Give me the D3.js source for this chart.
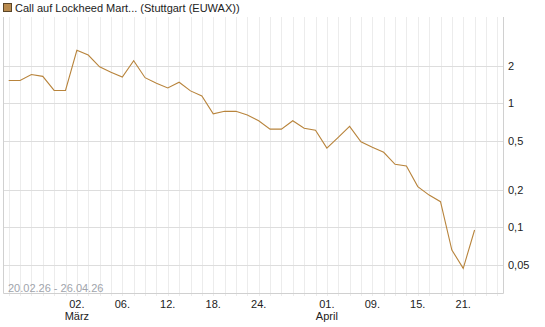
<!DOCTYPE html>
<html><head><meta charset="utf-8">
<script src="https://cdn.jsdelivr.net/npm/d3@7"></script>
<style>body{margin:0;background:#fff;}svg{display:block;font-family:"Liberation Sans",Arial,sans-serif;}</style>
</head><body>
<svg id="c" width="545" height="327"></svg>
<script>
const title = "Call auf Lockheed Mart... (Stuttgart (EUWAX))";
const rangeLabel = "20.02.26 - 26.04.26";
// trading days shown on the axis (Feb 20 – Apr 24, 2026)
const days = ["20.02","23.02","24.02","25.02","26.02","27.02",
  "02.03","03.03","04.03","05.03","06.03","09.03","10.03","11.03","12.03","13.03",
  "16.03","17.03","18.03","19.03","20.03","23.03","24.03","25.03","26.03","27.03",
  "30.03","31.03","01.04","02.04","07.04","08.04","09.04","10.04","13.04","14.04",
  "15.04","16.04","17.04","20.04","21.04","22.04","23.04","24.04"];
const values = [1.53,1.53,1.71,1.65,1.27,1.27,2.68,2.45,1.97,1.78,1.63,2.21,1.61,1.45,1.33,1.48,
  1.26,1.145,0.824,0.862,0.862,0.805,0.724,0.62,0.62,0.724,0.629,0.606,0.436,0.532,0.652,0.49,
  0.442,0.403,0.322,0.312,0.213,0.182,0.161,0.0656,0.0467,0.0951];
const tickDays = ["02.03","06.03","12.03","18.03","24.03","01.04","09.04","15.04","21.04"];
const tickLabels = ["02.","06.","12.","18.","24.","01.","09.","15.","21."];
const monthDays = ["02.03","01.04"];
const monthLabels = ["März","April"];
const yTicks = [0.05,0.1,0.2,0.5,1,2];
const yTickLabels = ["0,05","0,1","0,2","0,5","1","2"];

const svg = d3.select("#c");
const L = 3, R = 503, T = 17, B = 293;
const x = d3.scaleLinear().domain([-0.5, days.length - 0.5]).range([L, R]);
const y = d3.scaleLog().domain([0.02953, 4.97]).range([B, T]);
const xi = d => days.indexOf(d);

// vertical grid
svg.append("g").selectAll("line").data(days).join("line")
  .attr("x1", (d,i)=>Math.round(x(i))+0.5).attr("x2", (d,i)=>Math.round(x(i))+0.5)
  .attr("y1", T).attr("y2", B+3).attr("stroke", "#ececec").attr("stroke-width", 1);
// horizontal grid
svg.append("g").selectAll("line").data(yTicks).join("line")
  .attr("x1", L).attr("x2", R)
  .attr("y1", d=>Math.round(y(d))+0.5).attr("y2", d=>Math.round(y(d))+0.5)
  .attr("stroke", "#dddddd");
// frame
svg.append("path").attr("d", `M${L+0.5},${T}V${B+0.5}H${R+0.5}V${T}`)
  .attr("fill","none").attr("stroke","#d0d0d0");

// y labels
svg.append("g").selectAll("text").data(yTicks).join("text")
  .attr("x", 508).attr("y", d=>y(d)+4).attr("font-size", 11).attr("fill", "#222")
  .text((d,i)=>yTickLabels[i]);

// x labels
svg.append("g").selectAll("text").data(tickDays).join("text")
  .attr("x", d=>x(xi(d))).attr("y", 308).attr("text-anchor","middle")
  .attr("font-size", 11).attr("fill", "#222").text((d,i)=>tickLabels[i]);
svg.append("g").selectAll("text").data(monthDays).join("text")
  .attr("x", d=>x(xi(d))).attr("y", 320).attr("text-anchor","middle")
  .attr("font-size", 11).attr("fill", "#222").text((d,i)=>monthLabels[i]);

// range label
svg.append("text").attr("x", 8).attr("y", 292).attr("font-size", 11)
  .attr("fill", "#a0a4ac").text(rangeLabel);

// line
const line = d3.line().x((d,i)=>x(i)).y(d=>y(d));
svg.append("path").datum(values).attr("d", line)
  .attr("fill","none").attr("stroke","#b8843c").attr("stroke-width",1.1);

// title
svg.append("rect").attr("x",3.5).attr("y",3.5).attr("width",8).attr("height",8)
  .attr("fill","#b88a4e").attr("stroke","#5a4528");
svg.append("text").attr("x",15).attr("y",12).attr("font-size",11).attr("fill","#222").text(title);
</script>
</body></html>
